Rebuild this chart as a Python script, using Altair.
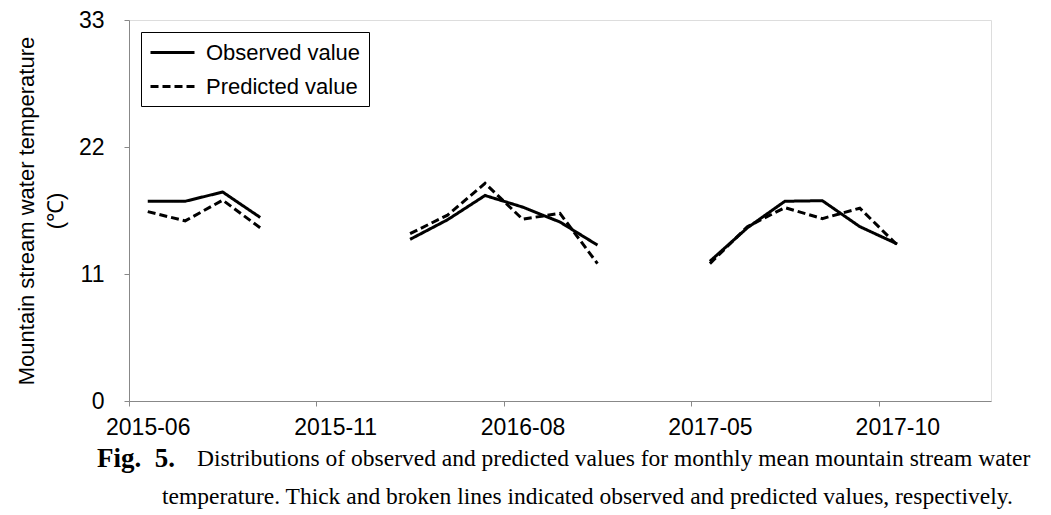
import altair as alt
import pandas as pd

# category axis (months with observations; unlabeled months are gaps)
months = ["2015-06", "2015-07", "2015-08", "2015-09", "2015-10", "2015-11",
          "2016-04", "2016-05", "2016-06", "2016-07", "2016-08", "2016-09", "2016-10",
          "2016-11", "2017-04", "2017-05", "2017-06", "2017-07", "2017-08", "2017-09",
          "2017-10", "2017-11", "2017-12"]
tick_months = ["2015-06", "2015-11", "2016-08", "2017-05", "2017-10"]

observed = [17.3, 17.3, 18.1, 15.9, None, None,
            None, 14.0, 15.7, 17.8, 16.8, 15.5, 13.5,
            None, None, 12.1, 15.0, 17.3, 17.35, 15.1,
            13.6, None, None]
predicted = [16.4, 15.6, 17.4, 15.0, None, None,
             None, 14.5, 16.1, 18.85, 15.75, 16.25, 11.9,
             None, None, 11.9, 15.1, 16.75, 15.8, 16.7,
             13.5, None, None]

series_names = ["Observed value", "Predicted value"]

rows = []
for name, vals in zip(series_names, [observed, predicted]):
    seg = 0
    prev_none = True
    for m, v in zip(months, vals):
        if v is None:
            prev_none = True
            continue
        if prev_none:
            seg += 1
        prev_none = False
        rows.append({"month": m, "value": v, "series": name, "seg": f"{name}-{seg}"})
df = pd.DataFrame(rows)

W, H = 862, 381
step = W / len(months)

caption_fig = "Fig.\u00a0 5."
caption_l1 = "Distributions of observed and predicted values for monthly mean mountain stream water"
caption_l2 = "temperature. Thick and broken lines indicated observed and predicted values, respectively."

lines = alt.Chart(df).mark_line(strokeWidth=3, color="black", strokeCap="butt").encode(
    x=alt.X("month:O", sort=months,
            scale=alt.Scale(type="point", domain=months, padding=0.5),
            axis=alt.Axis(values=tick_months, title=None, labelAngle=0,
                          tickOffset=-step / 2, labelOffset=step / 2,
                          labelPadding=10, labelFontSize=23, grid=False)),
    y=alt.Y("value:Q",
            scale=alt.Scale(domain=[0, 33], nice=False, zero=True),
            axis=alt.Axis(values=[0, 11, 22, 33], grid=False,
                          title=["Mountain stream water temperature", "(℃)"],
                          titleX=-91, titleY=H / 2, titleLineHeight=29,
                          titleFontSize=22, titleFontWeight="normal",
                          labelPadding=20, labelFontSize=23)),
    strokeDash=alt.StrokeDash("series:N",
                              scale=alt.Scale(domain=series_names, range=[[1, 0], [8, 4]]),
                              legend=alt.Legend(title=None, orient="none", legendX=12, legendY=12,
                                                strokeColor="black", fillColor="white",
                                                padding=8, symbolType="M-1,0H3", symbolSize=484,
                                                symbolStrokeWidth=3, symbolStrokeColor="black",
                                                labelOffset=32, rowPadding=10,
                                                labelFontSize=22, labelFont="Liberation Sans",
                                                labelColor="black")),
    detail="seg:N",
)

cap_fig = alt.Chart(pd.DataFrame({"t": [caption_fig]})).mark_text(
    align="left", baseline="middle", font="Liberation Serif", fontSize=27,
    fontWeight="bold", color="black").encode(
    text="t:N", x=alt.value(-32), y=alt.value(439))
cap_1 = alt.Chart(pd.DataFrame({"t": [caption_l1]})).mark_text(
    align="left", baseline="middle", font="Liberation Serif", fontSize=23.5,
    color="black").encode(text="t:N", x=alt.value(68), y=alt.value(439))
cap_2 = alt.Chart(pd.DataFrame({"t": [caption_l2]})).mark_text(
    align="left", baseline="middle", font="Liberation Serif", fontSize=23.5,
    color="black").encode(text="t:N", x=alt.value(33), y=alt.value(477))

chart = alt.layer(lines, cap_fig, cap_1, cap_2).properties(
    width=W, height=H,
    autosize=alt.AutoSizeParams(type="none"),
    padding={"left": 121, "top": 12, "right": 40, "bottom": 110},
).configure_view(stroke="black", strokeWidth=1).configure_axis(
    labelFont="Liberation Sans", titleFont="Liberation Sans",
    labelColor="black", titleColor="black",
    domainColor="black", tickColor="black", tickSize=6, grid=False,
).configure(background="white")

chart.save("out.html", embed_options={"renderer": "svg", "actions": False})
